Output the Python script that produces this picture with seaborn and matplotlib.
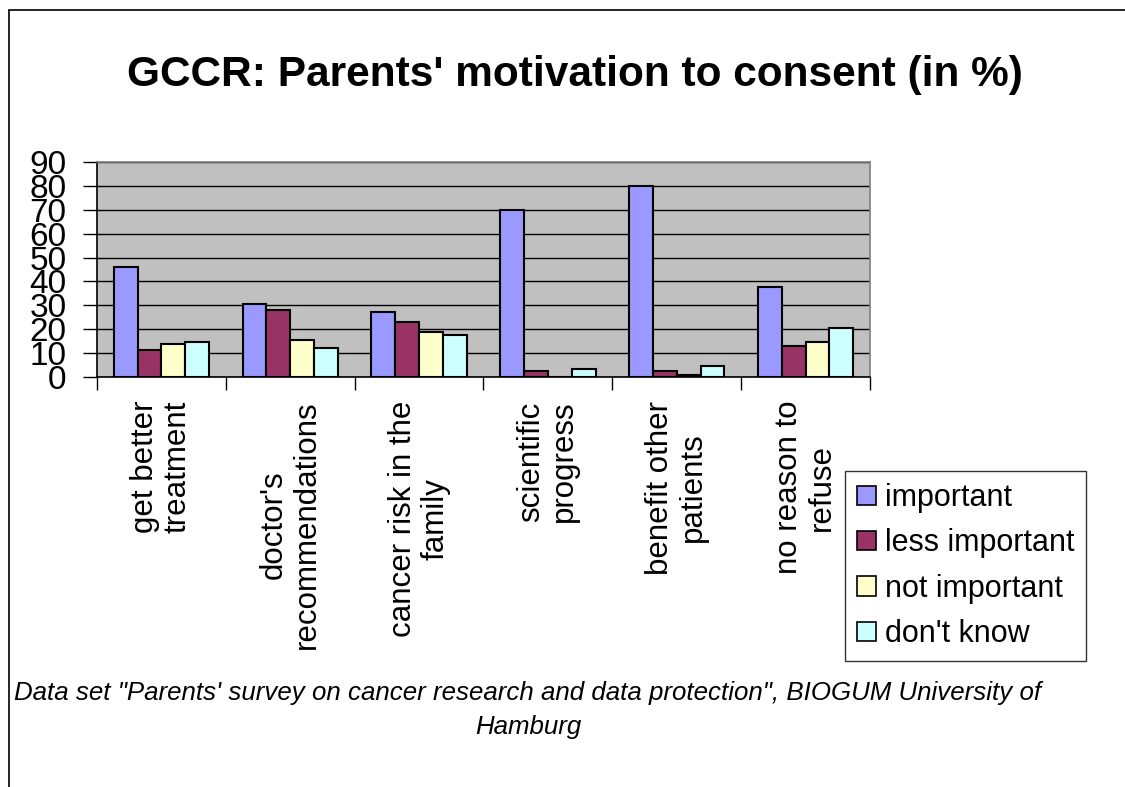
import matplotlib
matplotlib.use("Agg")
import matplotlib.pyplot as plt
from matplotlib.patches import Patch
from matplotlib.lines import Line2D
import numpy as np
import pandas as pd
import seaborn as sns

# Survey categories and ratings (percent of parents)
reasons = [
    "get better\ntreatment",
    "doctor's\nrecommendations",
    "cancer risk in the\nfamily",
    "scientific\nprogress",
    "benefit other\npatients",
    "no reason to\nrefuse",
]
ratings = ["important", "less important", "not important", "don't know"]
important = [46, 30.5, 27, 70, 80, 37.5]
less_important = [11.5, 28, 23, 2.4, 2.4, 13]
not_important = [14, 15.5, 19, 0, 0.7, 14.5]
dont_know = [14.5, 12, 17.5, 3.2, 4.7, 20.5]
yticks = [0, 10, 20, 30, 40, 50, 60, 70, 80, 90]

colors = ["#9999FF", "#993366", "#FFFFCC", "#CCFFFF"]

df = pd.DataFrame({
    "reason": reasons * 4,
    "rating": sum([[r] * len(reasons) for r in ratings], []),
    "value": important + less_important + not_important + dont_know,
})

sns.set_theme(style="white")
plt.rcParams["font.family"] = ["Liberation Sans", "DejaVu Sans"]
plt.rcParams["text.color"] = "black"
plt.rcParams["xtick.color"] = "black"
plt.rcParams["ytick.color"] = "black"
plt.rcParams["axes.labelcolor"] = "black"

fig = plt.figure(figsize=(11.25, 7.87), dpi=100)
ax = fig.add_axes([97 / 1125, 1 - 377 / 787, (870 - 97) / 1125, (377 - 162) / 787])
ax.set_facecolor("#C0C0C0")

sns.barplot(
    data=df, x="reason", y="value", hue="rating", order=reasons,
    hue_order=ratings, palette=dict(zip(ratings, colors)), saturation=1,
    width=0.74, edgecolor="black", linewidth=1.5, ax=ax, legend=False,
)

ax.set_ylim(0, 90)
ax.set_xlim(-0.5, len(reasons) - 0.5)
ax.set_yticks(yticks)
ax.set_yticklabels([str(v) for v in yticks], fontsize=24)
ax.yaxis.grid(True, color="black", linewidth=1)
ax.set_axisbelow(True)
ax.set_xlabel("")
ax.set_ylabel("")

# category labels at bar-group centres, tick marks on the group boundaries
ax.set_xticks(range(len(reasons)))
ax.set_xticklabels(reasons, rotation=90, fontsize=22.5, ha="center", va="top",
                   multialignment="center", linespacing=1.12)
ax.set_xticks(np.arange(-0.5, len(reasons), 1.0), minor=True)
ax.tick_params(axis="x", which="major", length=0, pad=17)
ax.tick_params(axis="x", which="minor", length=9, width=1, color="black",
               direction="out", bottom=True)
ax.tick_params(axis="y", length=10, width=1, color="black", direction="out",
               left=True, pad=12)

for side in ["top", "right"]:
    ax.spines[side].set_color("#808080")
    ax.spines[side].set_linewidth(1.2)
for side in ["left", "bottom"]:
    ax.spines[side].set_color("black")
    ax.spines[side].set_linewidth(1.2)

handles = [Patch(facecolor=c, edgecolor="black", linewidth=1.2) for c in colors]
leg = ax.legend(
    handles, ratings, loc="upper left", bbox_to_anchor=(845 / 1125, 1 - 471 / 787),
    bbox_transform=fig.transFigure, frameon=True, fancybox=False,
    edgecolor="black", fontsize=22, handlelength=0.6, handleheight=0.6,
    labelspacing=0.5, borderpad=0.4, handletextpad=0.3, borderaxespad=0,
)
leg.get_frame().set_linewidth(1)

fig.text(575 / 1125, 1 - 75 / 787, "GCCR: Parents' motivation to consent (in %)",
         ha="center", va="center", fontsize=30.5, fontweight="bold")

fig.text(528 / 1125, 1 - 693 / 787,
         "Data set \"Parents' survey on cancer research and data protection\", BIOGUM University of",
         ha="center", va="center", fontsize=18.6, fontstyle="italic")
fig.text(528 / 1125, 1 - 727 / 787, "Hamburg",
         ha="center", va="center", fontsize=18.6, fontstyle="italic")

# page frame, running off the right and bottom edges
fig.add_artist(Line2D([9 / 1125, 1.0], [1 - 10 / 787, 1 - 10 / 787],
                      transform=fig.transFigure, color="black", linewidth=1.2))
fig.add_artist(Line2D([9 / 1125, 9 / 1125], [0.0, 1 - 10 / 787],
                      transform=fig.transFigure, color="black", linewidth=1.2))

fig.savefig("out.png", dpi=100, facecolor="white")
